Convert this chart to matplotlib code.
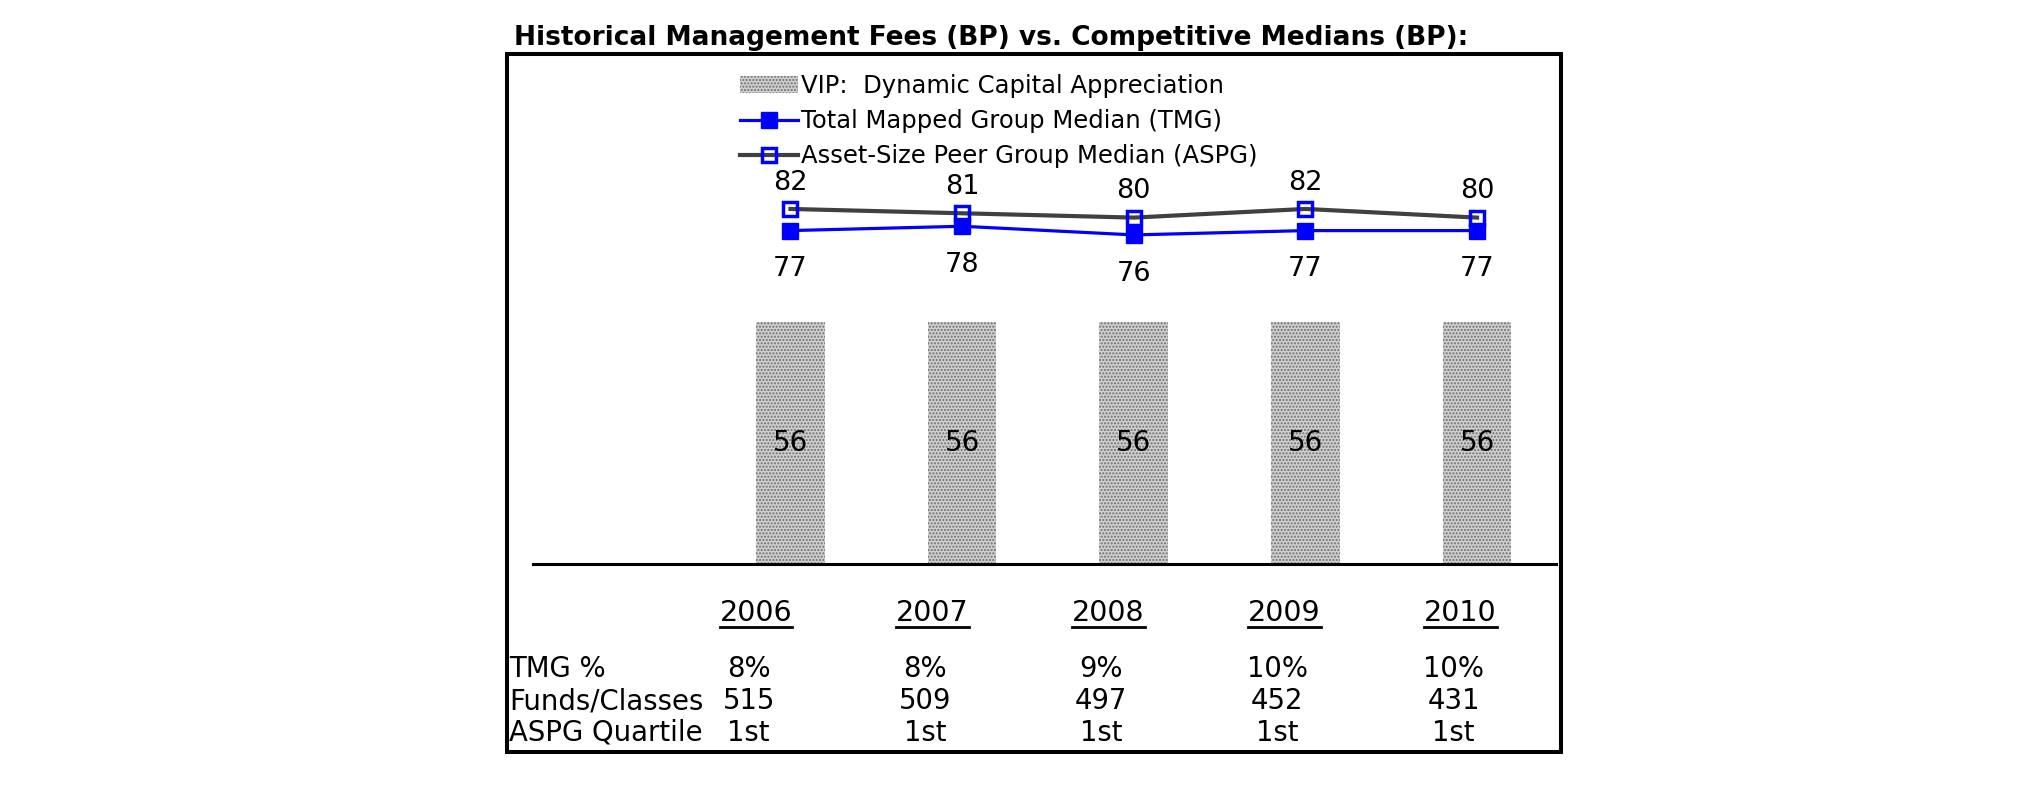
import matplotlib
matplotlib.use('Agg')
import matplotlib.pyplot as plt
import matplotlib.transforms as mtransforms
from matplotlib.patches import Rectangle
from matplotlib.lines import Line2D
import numpy as np

# ---- data ----
years = ['2006', '2007', '2008', '2009', '2010']
vip_fee = [56, 56, 56, 56, 56]
tmg_median = [77, 78, 76, 77, 77]
aspg_median = [82, 81, 80, 82, 80]
tmg_pct = ['8%', '8%', '9%', '10%', '10%']
funds_classes = ['515', '509', '497', '452', '431']
aspg_quartile = ['1st', '1st', '1st', '1st', '1st']
row_labels = ['TMG %', 'Funds/Classes', 'ASPG Quartile']
legend_labels = ['VIP:  Dynamic Capital Appreciation',
                 'Total Mapped Group Median (TMG)',
                 'Asset-Size Peer Group Median (ASPG)']
title = 'Historical Management Fees (BP) vs. Competitive Medians (BP):'

plt.rcParams['font.family'] = ['DejaVu Sans']

W, H = 2025, 806
fig = plt.figure(figsize=(W / 100, H / 100), dpi=100)


def fx(px):
    return px / W


def fy(py):
    return 1 - py / H


ax = fig.add_axes([fx(533), fy(564), fx(1556) - fx(533), fy(60) - fy(564)])
ax.set_facecolor('none')
x = np.arange(len(years))
ax.set_xlim(-1.5, 4.46)
ax.set_ylim(0, (564 - 60) / 4.33)

bars = ax.bar(x, vip_fee, width=0.40, color='#cfcfcf', edgecolor='#6e6e6e',
              linewidth=0, hatch='.....', label=legend_labels[0], zorder=2)
ax.bar_label(bars, labels=[f'{v:.0f}' for v in vip_fee], label_type='center',
             fontsize=20, color='black')

l_tmg, = ax.plot(x, tmg_median, color='#0000ff', lw=2.3, marker='s', ms=11,
                 mfc='#0000ff', mec='#0000ff', label=legend_labels[1], zorder=4)
l_aspg, = ax.plot(x, aspg_median, color='#404040', lw=3, marker='s', ms=10,
                  mfc='none', mec='#0000ff', mew=2.5, label=legend_labels[2], zorder=3)

for xi, v in zip(x, aspg_median):
    ax.annotate(f'{v}', (xi, v), xytext=(0, 19), textcoords='offset points',
                ha='center', va='center', fontsize=19.5)
for xi, v in zip(x, tmg_median):
    ax.annotate(f'{v}', (xi, v), xytext=(0, -28), textcoords='offset points',
                ha='center', va='center', fontsize=19.5)

for s in ['top', 'right', 'left']:
    ax.spines[s].set_visible(False)
ax.spines['bottom'].set_linewidth(2.2)
ax.set_xticks([])
ax.set_yticks([])

leg = fig.legend(handles=[bars, l_tmg, l_aspg], labels=legend_labels,
                 loc='upper left', bbox_to_anchor=(fx(740), fy(74)),
                 frameon=False, fontsize=17.5, borderpad=0, borderaxespad=0,
                 handlelength=2.4, handletextpad=0.1, labelspacing=0.46)

# title
fig.text(fx(514), fy(38), title, fontsize=19, fontweight='bold',
         ha='left', va='center')

# table column layout (data units of the x axis)
year_col0, year_step = -0.2, 1.026
val_col0, val_step = -0.244, 1.027

trans = mtransforms.blended_transform_factory(ax.transData, fig.transFigure)
year_texts = []
for i, yr in enumerate(years):
    t = ax.text(year_col0 + i * year_step, fy(613), yr, transform=trans,
                ha='center', va='center', fontsize=20.5)
    year_texts.append(t)

row_y = [669, 701, 733]
for lab, ry in zip(row_labels, row_y):
    fig.text(fx(509), fy(ry), lab, ha='left', va='center', fontsize=19.8)
for row, ry in zip([tmg_pct, funds_classes, aspg_quartile], row_y):
    for i, val in enumerate(row):
        ax.text(val_col0 + i * val_step, fy(ry), val, transform=trans,
                ha='center', va='center', fontsize=19.8)

# frame
fig.add_artist(Rectangle((fx(507), fy(752)), fx(1561) - fx(507), fy(54) - fy(752),
                         transform=fig.transFigure, fill=False,
                         edgecolor='black', linewidth=2.9))

fig.canvas.draw()
renderer = fig.canvas.get_renderer()
for t in year_texts:
    bb = t.get_window_extent(renderer)
    fig.add_artist(Line2D([bb.x0 / W, bb.x1 / W], [fy(627), fy(627)],
                          transform=fig.transFigure, color='black', lw=2))

fig.savefig('out.png', dpi=100)
